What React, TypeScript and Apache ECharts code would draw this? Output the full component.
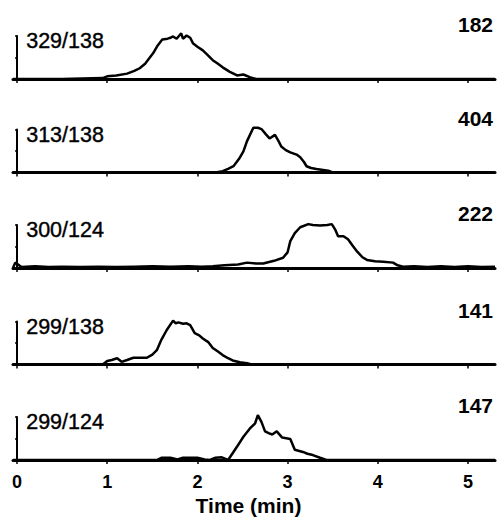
import React, { useEffect, useRef } from "react";
import * as echarts from "echarts";

const ionLabels = ["329/138", "313/138", "300/124", "299/138", "299/124"];
const intensities = ["182", "404", "222", "141", "147"];
const tickValues = [0, 1, 2, 3, 4, 5];

const t329_138 = [-0.045, 0.5, 0.95, 1.0, 1.1, 1.22, 1.3, 1.36, 1.42, 1.51, 1.56, 1.61, 1.67, 1.7, 1.73, 1.77, 1.82, 1.84, 1.88, 1.92, 1.95, 2.0, 2.06, 2.12, 2.17, 2.22, 2.28, 2.36, 2.44, 2.51, 2.58, 2.65, 5.3];
const v329_138 = [0, 0, 2, 6, 8, 12, 18, 24, 34, 58, 75, 88, 90, 92, 95, 90, 102, 90, 97, 92, 80, 72, 64, 52, 42, 35, 26, 16, 8, 10, 4, 0, 0];

const t313_138 = [-0.045, 2.2, 2.28, 2.34, 2.4, 2.46, 2.51, 2.55, 2.62, 2.67, 2.71, 2.76, 2.8, 2.86, 2.9, 2.93, 2.98, 3.03, 3.1, 3.14, 3.18, 3.21, 3.26, 3.32, 3.45, 3.5, 5.3];
const v313_138 = [0, 0, 3, 8, 14, 30, 47, 70, 100, 100, 97, 85, 76, 84, 70, 58, 50, 45, 40, 34, 24, 14, 10, 8, 4, 0, 0];

const t300_124 = [-0.045, -0.02, 0.05, 0.2, 0.35, 0.5, 0.7, 0.9, 1.1, 1.3, 1.5, 1.7, 1.9, 2.05, 2.17, 2.3, 2.45, 2.55, 2.65, 2.73, 2.85, 2.95, 3.0, 3.03, 3.08, 3.14, 3.23, 3.28, 3.36, 3.44, 3.49, 3.53, 3.56, 3.62, 3.67, 3.72, 3.77, 3.83, 3.88, 3.97, 4.06, 4.17, 4.22, 4.28, 4.4, 4.55, 4.7, 4.85, 5.0, 5.15, 5.3];
const v300_124 = [0, 12, 2, 4, 2, 3, 2, 3, 2, 3, 4, 3, 4, 3, 4, 6, 8, 12, 10, 10, 16, 23, 35, 60, 78, 91, 98, 96, 95, 96, 98, 85, 71, 71, 64, 50, 37, 24, 18, 15, 14, 12, 6, 3, 4, 2, 4, 2, 4, 2, 3];

const t299_138 = [-0.045, 0.95, 1.0, 1.05, 1.11, 1.16, 1.22, 1.29, 1.44, 1.5, 1.55, 1.6, 1.66, 1.73, 1.76, 1.79, 1.84, 1.88, 1.92, 1.97, 2.02, 2.06, 2.12, 2.17, 2.22, 2.28, 2.34, 2.39, 2.47, 2.55, 2.6, 5.3];
const v299_138 = [0, 0, 8, 10, 14, 6, 10, 15, 15, 22, 32, 55, 77, 98, 92, 94, 91, 92, 88, 70, 65, 58, 50, 37, 30, 21, 14, 9, 5, 3, 0, 0];

const t299_124 = [-0.045, 1.55, 1.6, 1.7, 1.78, 1.84, 1.9, 2.0, 2.08, 2.14, 2.2, 2.27, 2.34, 2.4, 2.44, 2.51, 2.58, 2.64, 2.67, 2.71, 2.75, 2.79, 2.83, 2.88, 2.94, 3.03, 3.08, 3.17, 3.22, 3.28, 3.36, 3.43, 5.3];
const v299_124 = [0, 0, 5, 5, 1, 5, 5, 5, 1, 0, 5, 6, 0, 18, 30, 52, 70, 82, 100, 85, 64, 60, 57, 64, 50, 47, 23, 18, 14, 11, 5, 0, 0];

const traceTimes = [t329_138, t313_138, t300_124, t299_138, t299_124];
const traceValues = [v329_138, v313_138, v300_124, v299_138, v299_124];

const FONT = "'Liberation Sans', Arial, Helvetica, sans-serif";
const BASELINES = [79, 172.5, 268, 364.5, 460];
const PANEL_H = 43;
const GRID_LEFT = 13;
const GRID_W = 482;

export default function App() {
  const ref = useRef<HTMLDivElement>(null);

  useEffect(() => {
    document.body.style.margin = "0";
    if (!ref.current) return;
    const chart = echarts.init(ref.current, null, { renderer: "svg" });

    const grids = BASELINES.map((b) => ({
      left: GRID_LEFT,
      top: b - PANEL_H,
      width: GRID_W,
      height: PANEL_H,
    }));

    const xAxes = BASELINES.map((_, i) => ({
      type: "value",
      gridIndex: i,
      min: -0.045,
      max: 5.3,
      splitLine: { show: false },
      axisLine: { show: true, lineStyle: { color: "#000", width: 3 } },
      axisTick: {
        show: true,
        customValues: tickValues,
        length: 4,
        lineStyle: { color: "#000", width: 1.5 },
      },
      axisLabel: {
        show: i === BASELINES.length - 1,
        customValues: tickValues,
        color: "#000",
        fontFamily: FONT,
        fontWeight: "bold",
        fontSize: 18,
        margin: 13,
      },
    }));

    const yAxes = BASELINES.map((_, i) => ({
      type: "value",
      gridIndex: i,
      min: 0,
      max: 96,
      splitLine: { show: false },
      axisLine: { show: true, lineStyle: { color: "#000", width: 2 } },
      axisTick: {
        show: true,
        customValues: [48, 96],
        length: 2,
        lineStyle: { color: "#000", width: 1.5 },
      },
      axisLabel: { show: false },
    }));

    const series = traceTimes.map((ts, i) => ({
      type: "line",
      xAxisIndex: i,
      yAxisIndex: i,
      data: ts.map((t, k) => [t, traceValues[i][k]]),
      showSymbol: false,
      symbol: "none",
      clip: false,
      lineStyle: { color: "#000", width: 2.5 },
      z: 3,
    }));

    const graphics: any[] = [];
    BASELINES.forEach((b, i) => {
      graphics.push({
        type: "text",
        left: 26,
        top: b - 37 - 12,
        style: {
          text: ionLabels[i],
          fill: "#000",
          font: `21.5px ${FONT}`,
          stroke: "#000",
          lineWidth: 0.4,
        },
      });
      graphics.push({
        type: "text",
        right: 4,
        top: b - 53 - 12,
        style: {
          text: intensities[i],
          fill: "#000",
          font: `bold 21px ${FONT}`,
        },
      });
    });
    graphics.push({
      type: "text",
      left: "center",
      top: 495,
      style: {
        text: "Time (min)",
        fill: "#000",
        font: `bold 21px ${FONT}`,
      },
    });

    chart.setOption({
      animation: false,
      backgroundColor: "#fff",
      grid: grids,
      xAxis: xAxes,
      yAxis: yAxes,
      series,
      graphic: graphics,
    });

    return () => chart.dispose();
  }, []);

  return <div ref={ref} style={{ width: 497, height: 521 }} />;
}
